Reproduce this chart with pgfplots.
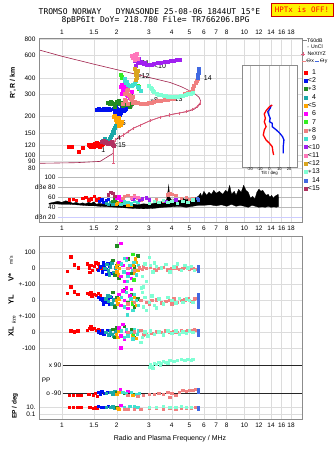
\documentclass[border=0pt]{standalone}
\usepackage{pgfplots}
\pgfplotsset{compat=1.18}
\usepackage{fontspec}
\setmainfont{Liberation Sans}
\setsansfont{Liberation Sans}
\newfontfamily\monof{DejaVu Sans Mono}
\definecolor{c1}{HTML}{FF0000}
\definecolor{c2}{HTML}{0010F0}
\definecolor{c3}{HTML}{228B22}
\definecolor{c4}{HTML}{1AA8A8}
\definecolor{c5}{HTML}{FFA500}
\definecolor{c6}{HTML}{FF00FF}
\definecolor{c7}{HTML}{33EE22}
\definecolor{c8}{HTML}{F08080}
\definecolor{c9}{HTML}{40E0D0}
\definecolor{c10}{HTML}{A020F0}
\definecolor{c11}{HTML}{FF77BB}
\definecolor{c12}{HTML}{DAA520}
\definecolor{c13}{HTML}{7FFFD4}
\definecolor{c14}{HTML}{4169E1}
\definecolor{c15}{HTML}{B03060}
\definecolor{prof}{HTML}{A0204A}
\definecolor{nexyz}{HTML}{E06080}
\definecolor{frm}{HTML}{8C8C8C}
\definecolor{grd}{HTML}{DCDCDC}
\newcommand{\tf}{\fontsize{6.5}{7}\selectfont}
\tikzset{elab/.style={font=\fontsize{7}{7}\selectfont, inner sep=0pt}}
\pgfplotsset{legend image code/.code={\draw[#1] plot coordinates {(0pt,0pt)};}}
\begin{document}
\begin{tikzpicture}[x=1pt,y=1pt]
\path[use as bounding box] (0,0) rectangle (335,451);
% ---------- header
\node[font=\monof\fontsize{8}{8}\selectfont] at (149.5,439) {TROMSO NORWAY\ \ \ DYNASONDE 25-08-06 1844UT 15°E};
\node[font=\monof\fontsize{8}{8}\selectfont] at (155.5,430.5) {8pBP6It DoY= 218.780 File= TR766206.BPG};
\node[font=\monof\fontsize{7.5}{8}\selectfont, text=red, fill=yellow, draw=red!80!black, line width=0.6pt, minimum width=62pt, minimum height=13pt, inner sep=0.5pt] at (302,441) {HPTx is OFF!};
% ---------- top panel
\begin{axis}[scale only axis, anchor=south west, width=263pt,
    xmode=log, xmin=0.75, xmax=20.67,
    axis line style={draw=none}, major tick length=0pt, minor tick length=0pt,
    xtick={1,1.5,2,3,4,5,6,7,8,10,12,14,16,18},
    xticklabels={1,1.5,2,3,4,5,6,7,8,10,12,14,16,18},
    tick label style={font=\tf},
    xmajorgrids, major grid style={grd, line width=0.5pt},
  at={(39pt,278pt)}, height=134.5pt, ymode=log, ymin=73.2, ymax=807,
  xticklabel pos=upper,
  ytick={80,90,100,120,150,200,300,400,600,800},
  yticklabels={80,90,100,120,150,200,300,400,600,800},
  ymajorgrids,
  legend style={at={(1.0076,0.781)}, anchor=north west, draw=none, fill=none,
    font=\fontsize{7}{7}\selectfont, row sep=0pt, inner sep=0pt,
    nodes={inner sep=0.75pt, text height=5.4pt, text depth=1.4pt}},
  legend cell align=left]
\addplot[prof, line width=0.6pt, forget plot] coordinates {(0.75,658)(1.0,588)(1.5,510)(2.0,463)(3.0,403)(3.92,368)(4.5,342)(5.0,318)(5.4,298)(5.65,282)(5.75,265)(5.7,250)(5.6,242)(5.3,228)(4.8,218)(4.1,210)(3.45,198)(3.04,186)(2.47,163)(2.17,144)(1.96,132)(1.92,121)(1.91,104)(1.62,90)(1.2,88)(0.75,87)};
\addplot[nexyz, line width=0.6pt, mark=|, mark size=1.6pt, forget plot] coordinates {(1.92,121)(1.96,132)(2.05,138)(2.17,144)(2.3,153)(2.47,163)(2.7,172)(3.04,186)(3.45,198)(3.9,206)(4.4,213)(4.8,220)(5.2,228)(5.5,240)(5.7,255)};
\addplot[nexyz, line width=0.6pt, mark=-, mark size=1.5pt, forget plot] coordinates {(1.91,87)(1.91,124)};
\addplot[only marks, mark=square*, mark size=1.5pt, c1] coordinates {(1.087,116)(1.13,117)(1.24,107)(1.30,115)(1.41,122)(1.44,116)(1.45,119)(1.48,121)(1.50,117)(1.52,123)(1.55,119)(1.58,121)(1.60,124)(1.62,118)(1.65,122)(1.68,124)(1.42,119)(1.56,125)};
\addlegendentry{\phantom{<}1}
\addplot[only marks, mark=square*, mark size=1.5pt, c2] coordinates {(1.55,228)(1.58,226)(1.60,230)(1.63,227)(1.66,226)(1.69,229)(1.72,229)(1.75,227)(1.78,231)(1.81,229)(1.84,227)(1.92,232)(1.95,225)(1.98,238)(2.01,230)(2.04,226)(2.07,220)(2.10,216)(2.14,236)(2.18,222)(2.22,228)(2.25,232)(2.0,212)(2.08,206)(1.96,218)(2.12,228)};
\addlegendentry{<2}
\addplot[only marks, mark=square*, mark size=1.5pt, c3] coordinates {(1.78,255)(1.82,250)(1.85,260)(1.88,257)(1.92,252)(1.96,247)(2.0,262)(2.04,256)(2.08,250)(2.15,245)(2.22,255)(2.28,248)(2.34,240)(2.40,250)(2.46,262)(1.95,240)(2.05,268)(2.12,258)};
\addlegendentry{$\ast$3}
\addplot[only marks, mark=square*, mark size=1.5pt, c4] coordinates {(1.68,130)(1.72,134)(1.76,131)(1.80,128)(1.83,135)(1.86,140)(1.88,146)(1.90,152)(1.92,158)(1.95,163)(1.98,170)(2.0,176)(1.93,150)(1.85,128)};
\addlegendentry{\phantom{<}4}
\addplot[only marks, mark=square*, mark size=1.5pt, c5] coordinates {(1.93,200)(1.96,205)(1.98,195)(2.01,190)(2.04,198)(2.06,185)(2.08,178)(2.10,172)(2.12,182)(2.0,182)(2.05,170)(1.97,188)};
\addlegendentry{<5}
\addplot[only marks, mark=square*, mark size=1.5pt, c6] coordinates {(2.1,340)(2.13,355)(2.15,320)(2.18,335)(2.2,305)(2.25,330)(2.28,315)(2.3,290)(2.35,280)(2.12,300)(2.4,310)(2.22,360)(2.26,295)};
\addlegendentry{\phantom{<}6}
\addplot[only marks, mark=square*, mark size=1.5pt, c7] coordinates {(2.1,420)(2.12,410)(2.14,400)(2.6,350)(2.65,340)(2.62,330)};
\addlegendentry{\phantom{<}7}
\addplot[only marks, mark=square*, mark size=1.5pt, c8] coordinates {(2.15,250)(2.2,300)(2.22,270)(2.25,265)(2.28,320)(2.3,325)(2.33,295)(2.35,290)(2.38,275)(2.4,270)(2.45,285)(2.5,262)(2.55,258)(2.6,255)(2.7,252)(2.8,250)(2.9,252)(3.0,255)(3.1,258)(3.2,262)(3.35,265)(3.5,268)(3.65,270)(3.8,272)(3.95,275)(4.1,278)(4.3,285)(4.5,292)(4.7,300)(4.9,308)(5.05,315)(5.2,328)(5.3,345)(5.4,365)(5.47,380)(5.52,395)(2.3,250)(2.45,255)};
\addlegendentry{$\ast$8}
\addplot[only marks, mark=square*, mark size=1.5pt, c9] coordinates {(2.2,380)(2.22,395)(2.25,365)(2.28,372)(2.3,355)(2.35,350)(2.4,345)(2.5,360)(2.55,380)(2.6,340)(2.65,335)(2.7,320)(2.45,352)};
\addlegendentry{\phantom{<}9}
\addplot[only marks, mark=square*, mark size=1.5pt, c10] coordinates {(2.5,540)(2.55,500)(2.6,520)(2.65,560)(2.7,530)(2.75,520)(2.8,515)(2.9,510)(3.0,505)(3.1,510)(3.2,515)(3.35,520)(3.5,525)(3.65,530)(3.8,535)(3.95,540)(4.1,540)(4.25,548)(4.4,555)(2.58,545)(2.85,525)};
\addlegendentry{<10}
\addplot[only marks, mark=square*, mark size=1.5pt, c11] coordinates {(2.42,590)(2.45,575)(2.48,570)(2.52,600)(2.55,580)(2.6,560)(2.5,550)(2.58,610)};
\addlegendentry{<11}
\addplot[only marks, mark=square*, mark size=1.5pt, c12] coordinates {(2.52,470)(2.55,445)(2.53,420)(2.56,400)(2.58,430)(2.54,385)(2.6,455)};
\addlegendentry{<12}
\addplot[only marks, mark=square*, mark size=1.5pt, c13] coordinates {(3.0,345)(3.05,338)(3.1,330)(3.15,320)(3.2,312)(3.3,302)(3.4,297)(3.5,294)(3.6,291)(3.7,289)(3.8,287)(3.9,286)(4.0,285)(4.15,286)(4.3,288)(4.45,290)(4.6,293)(4.75,296)(4.9,300)(5.05,303)(5.2,306)};
\addlegendentry{$\ast$13}
\addplot[only marks, mark=square*, mark size=1.5pt, c14] coordinates {(5.56,398)(5.57,410)(5.58,422)(5.59,435)(5.6,448)(5.61,460)(5.62,472)};
\addlegendentry{\phantom{<}14}
\addplot[only marks, mark=square*, mark size=1.5pt, c15] coordinates {(1.66,128)(1.70,131)(1.72,125)(1.75,129)(1.78,123)(1.80,126)(1.85,124)(1.88,128)(1.90,122)(1.93,119)};
\addlegendentry{<15}
\node[elab] at (axis cs:1.69,110) {1};
\node[elab] at (axis cs:2.08,121) {<15};
\node[elab] at (axis cs:2.06,136) {4};
\node[elab] at (axis cs:2.13,178) {<5};
\node[elab] at (axis cs:2.05,220) {<2};
\node[elab] at (axis cs:2.33,242) {$\ast$3};
\node[elab] at (axis cs:2.41,304) {6};
\node[elab] at (axis cs:3.2,268) {$\ast$8};
\node[elab] at (axis cs:2.52,358) {9};
\node[elab] at (axis cs:2.8,410) {<12};
\node[elab] at (axis cs:2.8,520) {<11};
\node[elab] at (axis cs:3.45,494) {<10};
\node[elab] at (axis cs:4.25,272) {$\ast$13};
\node[elab] at (axis cs:6.3,400) {14};
\end{axis}
% ---------- dB panel
\begin{axis}[scale only axis, anchor=south west, width=263pt,
    xmode=log, xmin=0.75, xmax=20.67,
    axis line style={draw=none}, major tick length=0pt, minor tick length=0pt,
    xtick={1,1.5,2,3,4,5,6,7,8,10,12,14,16,18},
    xticklabels={1,1.5,2,3,4,5,6,7,8,10,12,14,16,18},
    tick label style={font=\tf},
    xmajorgrids, major grid style={grd, line width=0.5pt},
  at={(39pt,228.5pt)}, height=49.5pt, ymin=9.6, ymax=108.6,
  ytick={20,40,60,80,100}, yticklabels={dBn 20,40,60,dBe 80,100},
  yticklabel style={xshift=20pt}]
\draw[gray!55, line width=0.6pt] (axis cs:0.955,40) -- (axis cs:20.67,40);
\draw[gray!55, line width=0.6pt] (axis cs:0.955,60) -- (axis cs:20.67,60);
\draw[gray!55, line width=0.6pt] (axis cs:0.955,80) -- (axis cs:20.67,80);
\draw[gray!55, line width=0.6pt] (axis cs:0.955,100) -- (axis cs:20.67,100);
\draw[blue!20, line width=1pt] (axis cs:0.955,20) -- (axis cs:20.67,20);
\addplot[fill=black, draw=black, line width=0.3pt] coordinates {(0.85,48)(0.9,50)(0.95,52)(1.0,50)(1.05,53)(1.1,51)(1.15,48)(1.2,50)(1.25,47)(1.3,49)(1.35,47)(1.4,50)(1.45,48)(1.5,51)(1.55,46)(1.6,48)(1.7,46)(1.8,47)(1.9,45)(2.0,47)(2.2,46)(2.4,47)(2.6,45)(2.8,47)(3.0,46)(3.2,48)(3.4,50)(3.6,52)(3.75,55)(3.8,68)(3.85,84)(3.9,60)(4.0,54)(4.2,56)(4.4,53)(4.6,58)(4.8,55)(5.0,57)(5.2,54)(5.4,59)(5.6,62)(5.75,68)(5.85,62)(6.0,72)(6.2,64)(6.4,70)(6.6,66)(6.8,74)(7.0,68)(7.3,72)(7.6,66)(7.9,74)(8.1,70)(8.3,84)(8.5,66)(8.8,72)(9.0,64)(9.3,76)(9.6,70)(9.9,84)(10.2,74)(10.5,70)(10.8,58)(11.1,62)(11.4,56)(11.7,70)(12.0,76)(12.3,72)(12.6,74)(12.9,68)(13.2,64)(13.5,66)(13.8,60)(14.1,64)(14.4,58)(14.7,62)(15.0,64)(15.3,66)(15.4,58)
(15.4,42)(15.0,40)(14.5,41)(14.0,40)(13.5,42)(13.0,40)(12.5,41)(12.0,40)(11.5,42)(11.0,44)(10.5,40)(10.0,42)(9.5,44)(9.0,42)(8.5,46)(8.0,42)(7.5,45)(7.0,43)(6.5,45)(6.0,44)(5.6,44)(5.2,42)(4.8,40)(4.4,42)(4.0,41)(3.6,40)(3.2,38)(2.8,37)(2.4,38)(2.0,40)(1.8,41)(1.6,42)(1.5,43)(1.4,43)(1.3,44)(1.2,45)(1.1,46)(1.0,46)(0.9,47)(0.85,46)} --cycle;
\addplot[only marks, mark=square*, mark size=1.2pt, c1] coordinates {(1.1,55)(1.15,56)(1.2,54)(1.3,58)(1.35,60)(1.4,55)(1.45,57)(1.5,62)(1.55,55)(1.6,58)(1.65,54)};
\addplot[only marks, mark=square*, mark size=1.2pt, c2] coordinates {(1.6,52)(1.65,55)(1.7,50)(1.75,53)(1.8,56)};
\addplot[only marks, mark=square*, mark size=1.2pt, c4] coordinates {(1.75,48)(1.8,46)(1.85,50)(1.9,47)};
\addplot[only marks, mark=square*, mark size=1.2pt, c3] coordinates {(1.9,52)(1.95,55)(2.0,50)(2.1,48)};
\addplot[only marks, mark=square*, mark size=1.2pt, c5] coordinates {(1.98,46)(2.02,48)(2.06,50)(2.3,45)(2.35,47)(2.4,44)};
\addplot[only marks, mark=square*, mark size=1.2pt, c6] coordinates {(2.0,58)(2.05,62)(2.1,55)};
\addplot[only marks, mark=square*, mark size=1.2pt, c9] coordinates {(2.1,46)(2.2,48)(2.3,50)(2.4,47)(2.5,52)(2.6,50)(2.2,52)};
\addplot[only marks, mark=square*, mark size=1.2pt, c8] coordinates {(2.15,58)(2.2,62)(2.3,64)(2.4,60)(2.5,63)(2.6,58)(2.7,55)(3.0,52)(3.3,55)(3.6,53)(3.8,65)(3.9,68)(4.0,66)(4.2,64)(4.5,58)(4.8,60)(5.0,56)(5.2,58)};
\addplot[only marks, mark=square*, mark size=1.2pt, c10] coordinates {(2.45,56)(2.55,60)(2.65,54)(2.75,57)(2.9,59)(3.0,55)(3.2,52)(3.4,50)(3.7,52)(4.2,55)};
\addplot[only marks, mark=square*, mark size=1.2pt, c11] coordinates {(2.4,58)(2.5,62)(2.6,60)};
\addplot[only marks, mark=square*, mark size=1.2pt, c13] coordinates {(3.0,48)(3.2,52)(3.4,50)(3.6,54)(3.8,50)(4.0,52)(4.3,48)(4.6,52)(4.9,50)(5.2,55)};
\addplot[only marks, mark=square*, mark size=1.2pt, c14] coordinates {(5.5,58)(5.6,55)};
\addplot[only marks, mark=square*, mark size=1.2pt, c15] coordinates {(1.8,65)(1.85,70)(1.9,68)(1.95,62)};
\end{axis}
% ---------- velocity / location panel
\begin{axis}[scale only axis, anchor=south west, width=263pt,
    xmode=log, xmin=0.75, xmax=20.67,
    axis line style={draw=none}, major tick length=0pt, minor tick length=0pt,
    xtick={1,1.5,2,3,4,5,6,7,8,10,12,14,16,18},
    xticklabels={,,,,,,,,,,,,,},
    tick label style={font=\tf},
    xmajorgrids, major grid style={grd, line width=0.5pt},
  at={(39pt,95pt)}, height=120pt, ymin=-5.48, ymax=2.02,
  ytick={1,0,-1,-2,-3,-4,-5}, yticklabels={100,0,+-100,0,+-100,0,-100},
  ymajorgrids]
\addplot[only marks, mark=square*, mark size=1.2pt, c1] coordinates {(1.12,0.72)(1.07,-0.18)(1.17,0.22)(1.23,0.05)(1.38,0.3)(1.41,0.05)(1.44,0.2)(1.47,-0.1)(1.5,0.12)(1.53,0.35)(1.56,-0.05)(1.6,0.15)(1.42,-0.25)(1.58,0.28)(1.63,0.0)
(1.12,-1.15)(1.07,-1.55)(1.17,-1.45)(1.22,-1.6)(1.38,-1.55)(1.42,-1.6)(1.46,-1.7)(1.5,-1.62)(1.54,-1.68)(1.58,-1.55)(1.62,-1.7)(1.44,-1.5)
(1.12,-3.9)(1.17,-3.95)(1.22,-3.9)(1.38,-3.85)(1.42,-3.75)(1.46,-3.8)(1.5,-3.75)(1.54,-3.85)(1.58,-3.8)(1.62,-3.9)(1.44,-3.65)};
\addplot[only marks, mark=square*, mark size=1.2pt, c2] coordinates {(1.58,-0.1)(1.62,0.1)(1.66,-0.2)(1.7,0.2)(1.74,-0.05)(1.78,0.3)(1.82,0.15)(1.88,-0.3)(1.68,0.4)(1.76,-0.35)
(1.58,-1.8)(1.62,-1.9)(1.66,-2.0)(1.7,-1.85)(1.74,-2.1)(1.78,-1.95)(1.82,-2.2)(1.86,-1.8)(1.68,-2.2)
(1.58,-3.95)(1.62,-4.05)(1.66,-3.9)(1.7,-4.1)(1.74,-4.0)(1.78,-3.85)(1.82,-4.15)};
\addplot[only marks, mark=square*, mark size=1.2pt, c4] coordinates {(1.72,0.0)(1.76,0.25)(1.8,-0.15)(1.84,0.1)(1.88,0.35)(1.92,-0.25)(1.96,0.05)(1.82,-0.4)
(1.74,-1.9)(1.8,-2.05)(1.84,-1.75)(1.88,-2.2)(1.92,-1.95)(1.96,-2.3)(1.78,-1.7)
(1.74,-4.0)(1.8,-4.15)(1.84,-3.9)(1.88,-4.1)(1.92,-4.25)(1.96,-3.95)};
\addplot[only marks, mark=square*, mark size=1.2pt, c3] coordinates {(1.9,0.5)(1.95,-0.4)(2.0,0.2)(2.05,-0.6)(2.1,0.3)(2.2,-0.2)(2.3,0.6)(2.4,-0.3)(2.5,0.1)(2.6,0.8)(2.0,1.41)
(1.9,-1.5)(1.95,-2.4)(2.0,-1.8)(2.1,-2.3)(2.2,-1.3)(2.3,-2.1)(2.4,-1.6)(2.5,-2.4)(2.6,-1.9)
(1.9,-3.8)(1.95,-4.3)(2.0,-3.7)(2.1,-4.2)(2.2,-3.6)(2.3,-4.1)(2.4,-3.8)(2.5,-4.3)};
\addplot[only marks, mark=square*, mark size=1.2pt, c5] coordinates {(1.98,0.1)(2.0,-0.2)(2.02,0.3)(2.04,-0.4)(2.06,0.0)(2.45,0.2)(2.5,-0.3)(2.55,0.4)(2.6,-0.1)(2.52,0.6)
(1.98,-2.0)(2.02,-2.2)(2.05,-1.9)(2.45,-2.1)(2.5,-1.8)(2.55,-2.3)
(1.98,-4.1)(2.02,-4.3)(2.05,-3.9)(2.45,-4.2)(2.5,-3.9)(2.55,-4.35)};
\addplot[only marks, mark=square*, mark size=1.2pt, c6] coordinates {(2.05,0.4)(2.1,-0.5)(2.15,0.2)(2.2,-0.8)(2.25,0.6)(2.3,-0.3)(2.35,0.1)(2.1,1.56)(2.4,-0.6)
(2.05,-1.6)(2.1,-2.3)(2.15,-1.4)(2.2,-2.0)(2.25,-1.2)(2.3,-2.5)(2.35,-1.7)(2.4,-1.3)
(2.05,-3.7)(2.1,-4.2)(2.15,-3.5)(2.2,-4.4)(2.25,-3.9)(2.3,-4.1)(2.1,-4.95)};
\addplot[only marks, mark=square*, mark size=1.2pt, c9] coordinates {(2.12,0.3)(2.18,-0.2)(2.25,0.5)(2.3,-0.5)(2.35,0.2)(2.42,-0.1)(2.48,0.4)(2.55,-0.4)(2.62,0.2)(2.28,-0.8)(2.2,0.65)
(2.12,-1.8)(2.2,-2.4)(2.25,-1.5)(2.3,-2.2)(2.38,-1.9)(2.45,-2.6)(2.5,-1.6)(2.55,-2.0)(2.62,-2.3)(2.28,-2.9)
(2.12,-3.9)(2.2,-4.3)(2.25,-3.8)(2.3,-4.2)(2.38,-4.0)(2.45,-4.4)(2.5,-3.8)(2.58,-4.1)(2.62,-3.9)};
\addplot[only marks, mark=square*, mark size=1.2pt, c7] coordinates {(2.45,0.9)(2.48,-0.7)(2.42,-2.2)(2.46,-4.1)};
\addplot[only marks, mark=square*, mark size=1.2pt, c8] coordinates {(2.3,0.0)(2.5,-0.1)(2.65,0.05)(2.75,-0.05)(2.9,0.0)(3.05,0.1)(3.2,-0.05)(3.4,0.0)(3.6,0.08)(3.8,-0.08)(4.0,0.0)(4.2,0.05)(4.4,-0.05)(4.6,0.02)(4.8,0.08)(5.0,-0.04)(5.2,0.0)(5.4,-0.06)(2.8,0.1)(3.3,-0.1)
(2.3,-2.2)(2.5,-2.1)(2.7,-2.0)(2.9,-2.1)(3.1,-2.0)(3.3,-1.95)(3.5,-2.15)(3.7,-2.05)(3.9,-2.0)(4.1,-1.9)(4.3,-2.1)(4.5,-2.0)(4.7,-1.95)(4.9,-1.85)(5.1,-2.05)(5.3,-1.9)(5.45,-1.85)(3.0,-2.25)(4.0,-2.2)
(2.3,-4.0)(2.5,-3.95)(2.7,-3.85)(2.9,-4.1)(3.1,-4.05)(3.3,-3.95)(3.5,-4.0)(3.7,-3.9)(3.9,-4.0)(4.1,-3.95)(4.3,-4.0)(4.5,-3.85)(4.7,-3.95)(4.9,-3.85)(5.1,-3.9)(5.3,-3.8)(5.45,-3.85)(2.8,-4.15)};
\addplot[only marks, mark=square*, mark size=1.2pt, c13] coordinates {(2.75,-0.5)(2.8,-1.15)(2.85,0.3)(3.0,0.68)(3.05,0.2)(3.15,-0.2)(3.3,0.15)(3.5,0.05)(3.7,0.25)(3.9,-0.2)(4.1,0.1)(4.3,0.3)(4.5,-0.1)(4.7,0.2)(4.9,0.05)(5.1,0.15)(5.3,-0.1)(2.9,-0.8)(3.2,0.35)
(2.75,-1.5)(2.8,-2.4)(2.85,-1.8)(2.9,-2.6)(3.0,-2.1)(3.1,-1.7)(3.2,-2.3)(3.4,-1.9)(3.6,-2.2)(3.8,-1.8)(4.0,-2.0)(4.2,-2.15)(4.4,-1.85)(4.6,-2.1)(4.8,-1.9)(5.0,-2.0)(5.2,-2.1)(3.3,-2.45)(2.72,-1.2)
(2.75,-4.3)(2.85,-3.95)(2.95,-4.2)(3.05,-3.9)(3.2,-4.1)(3.4,-3.95)(3.6,-4.15)(3.8,-3.9)(4.0,-4.05)(4.2,-3.9)(4.4,-4.1)(4.6,-3.95)(4.8,-4.05)(5.0,-3.9)(5.2,-4.0)(2.7,-4.6)};
\addplot[only marks, mark=square*, mark size=1.2pt, c14] coordinates {(5.58,0.15)(5.58,0.0)(5.58,-0.15)(5.6,0.05)
(5.58,-1.6)(5.58,-1.8)(5.58,-2.0)(5.58,-2.2)(5.58,-2.4)(5.6,-1.9)
(5.58,-3.9)(5.58,-4.05)(5.58,-4.15)(5.6,-4.0)};
\end{axis}
% ---------- polarization / EP panel
\begin{axis}[scale only axis, anchor=south west, width=263pt,
    xmode=log, xmin=0.75, xmax=20.67,
    axis line style={draw=none}, major tick length=0pt, minor tick length=0pt,
    xtick={1,1.5,2,3,4,5,6,7,8,10,12,14,16,18},
    xticklabels={1,1.5,2,3,4,5,6,7,8,10,12,14,16,18},
    tick label style={font=\tf},
    xmajorgrids, major grid style={grd, line width=0.5pt},
  at={(39pt,32pt)}, height=63pt, ymin=0, ymax=63,
  ytick={5,11.7}, yticklabels={0.1,10.}, ymajorgrids]
\draw[gray!30!black, line width=0.6pt] (axis cs:1.02,54) -- (axis cs:20.67,54);
\draw[gray!30!black, line width=0.6pt] (axis cs:1.02,25.7) -- (axis cs:20.67,25.7);
\node[anchor=east, font=\tf, inner sep=0.5pt] at (axis cs:1.0,54) {x 90};
\node[anchor=east, font=\tf, inner sep=0.5pt] at (axis cs:1.0,25.7) {o -90};
\node[font=\tf, inner sep=0.5pt] at (axis cs:0.82,39) {PP};
\addplot[only marks, mark=square*, mark size=1.2pt, c1] coordinates {(1.1,24)(1.15,24)(1.22,24)(1.28,24)(1.4,25)(1.48,24)(1.52,26)(1.56,23)(1.1,12)(1.15,12)(1.22,12)(1.28,12)(1.42,12)(1.48,10.5)(1.52,12)(1.55,11)};
\addplot[only marks, mark=square*, mark size=1.2pt, c2] coordinates {(1.58,27)(1.65,28)(1.72,26)(1.78,27)(1.62,25)(1.58,13)(1.65,12)(1.72,12)(1.8,13)};
\addplot[only marks, mark=square*, mark size=1.2pt, c4] coordinates {(1.75,26)(1.85,27)(1.9,25)(1.95,28)(1.75,12)(1.85,12)(1.9,12.5)(1.95,11)};
\addplot[only marks, mark=square*, mark size=1.2pt, c3] coordinates {(1.98,27)(2.2,26)(2.5,25)(2.0,12)};
\addplot[only marks, mark=square*, mark size=1.2pt, c5] coordinates {(2.0,25)(2.05,27)(2.45,24)(2.02,11)(2.05,10)(2.5,11)};
\addplot[only marks, mark=square*, mark size=1.2pt, c6] coordinates {(2.08,30)(2.3,28)(2.1,14)};
\addplot[only marks, mark=square*, mark size=1.2pt, c9] coordinates {(2.15,27)(2.25,26)(2.4,27)(2.55,25)(2.65,26)(2.2,12)(2.35,12.5)(2.5,13)(2.6,12)};
\addplot[only marks, mark=square*, mark size=1.2pt, c8] coordinates {(2.3,24)(2.6,23)(2.8,24)(3.0,25)(3.2,25)(3.4,26)(3.6,25)(3.8,27)(4.0,26)(4.2,24)(4.4,27)(4.6,29)(4.8,28)(5.0,29)(5.2,29)(5.4,30)(3.9,22)
(2.2,10)(2.3,9.5)(2.5,10)(2.7,10)(3.0,10.5)(3.3,11)(3.6,10)(3.9,11)(4.2,10)(4.5,11)(4.8,10.5)(5.1,11)(5.4,11.5)};
\addplot[only marks, mark=square*, mark size=1.2pt, c13] coordinates {(3.0,52)(3.05,55)(3.1,53)(3.2,56)(3.3,55)(3.4,57)(3.5,56)(3.6,58)(3.7,57)(3.8,56)(3.9,59)(4.1,58)(4.3,59)(4.5,60)(4.7,59)(4.9,60)(5.1,59)(5.2,60)(3.15,51)(3.45,54)
(3.0,12)(3.3,12)(3.6,12.5)(3.9,12)(4.2,12)(4.5,12.5)(4.8,11.5)(5.1,12)};
\addplot[only marks, mark=square*, mark size=1.2pt, c14] coordinates {(5.58,28)(5.6,30)(5.6,27)(5.6,12)(5.6,10)};
\end{axis}
% ---------- tilt inset
\begin{axis}[at={(242pt,284pt)}, anchor=south west, scale only axis, width=55pt, height=102pt,
  xmin=-28, xmax=28, ymin=0, ymax=102, ytick=\empty,
  xtick={-20,-10,0,10,20}, xticklabels={-20,-10,0,10,20},
  xmajorgrids, major grid style={gray!45, line width=0.5pt},
  axis line style={frm, line width=0.6pt}, major tick length=0pt,
  tick label style={font=\fontsize{4}{4}\selectfont, inner sep=0.3pt},
  xlabel={Tilt / deg}, xlabel style={font=\fontsize{4.4}{4.4}\selectfont, inner sep=0pt, yshift=-0.8pt},
  axis background/.style={fill=white}]
\addplot[c2, line width=1.3pt] coordinates {(1.8,62)(0.7,58.7)(-1.8,55.3)(-0.7,52)(0.7,48.7)(0,45.3)(2.8,43.7)(2.8,40.3)(7,37)(10.5,33.7)(13.3,30.3)(14.7,27)(14,20.3)(14,13.7)};
\addplot[c1, line width=1.3pt] coordinates {(2.8,62)(0,60.3)(-3.5,56.3)(-5.3,53)(-4.2,48.7)(-5.3,45.3)(-3.5,40.3)(-5.3,37)(-6.3,32)(-3.5,27)(0,23.7)(2.8,20.3)(3.5,15.3)(4.2,12)};
\end{axis}
% ---------- frames
\draw[frm, line width=0.7pt] (39,228.5) rectangle (302,412.5);
\draw[frm, line width=0.7pt] (39,32) rectangle (302,215);
% ---------- small legend keys
\draw[gray, line width=0.6pt] (302,410.5) -- (306.5,410.5);
\node[anchor=west, font=\fontsize{5.2}{5.5}\selectfont, inner sep=0pt] at (307,410.5) {T60dB};
\fill[black] (308,404) circle (0.5);
\node[anchor=west, font=\fontsize{5.2}{5.5}\selectfont, inner sep=0pt] at (311,404) {UnCl};
\draw[nexyz, line width=0.6pt] (301.3,397) -- (305.3,397) (303.3,395) -- (303.3,399);
\node[anchor=west, font=\fontsize{5.2}{5.5}\selectfont, inner sep=0pt] at (307.5,397) {NeXtYZ};
\draw[c8, line width=0.6pt] (302,390) -- (305.5,390);
\node[anchor=west, font=\fontsize{5.2}{5.5}\selectfont, inner sep=0pt] at (306,390) {$\Theta$x};
\draw[c14, line width=0.6pt] (314.5,390) -- (319,390);
\node[anchor=west, font=\fontsize{5.2}{5.5}\selectfont, inner sep=0pt] at (319.5,390) {$\Theta$y};
% ---------- axis labels
\node[rotate=90, font=\bfseries\fontsize{7}{7}\selectfont] at (13,368) {R', R / km};
\node[rotate=90, font=\bfseries\fontsize{7.5}{7.5}\selectfont, anchor=east] at (11,181) {V*};
\node[rotate=90, font=\fontsize{5}{5}\selectfont, anchor=west] at (11,183) {m/s};
\node[rotate=90, font=\bfseries\fontsize{7.5}{7.5}\selectfont] at (11,151) {YL};
\node[rotate=90, font=\itshape\fontsize{5.5}{5.5}\selectfont] at (14,131.5) {km};
\node[rotate=90, font=\bfseries\fontsize{7.5}{7.5}\selectfont] at (11,119.5) {XL};
\node[rotate=90, font=\bfseries\fontsize{6.5}{6.5}\selectfont] at (15,45) {EP / deg};
\node[font=\fontsize{7}{7}\selectfont] at (170,12) {Radio and Plasma Frequency / MHz};
\end{tikzpicture}
\end{document}
